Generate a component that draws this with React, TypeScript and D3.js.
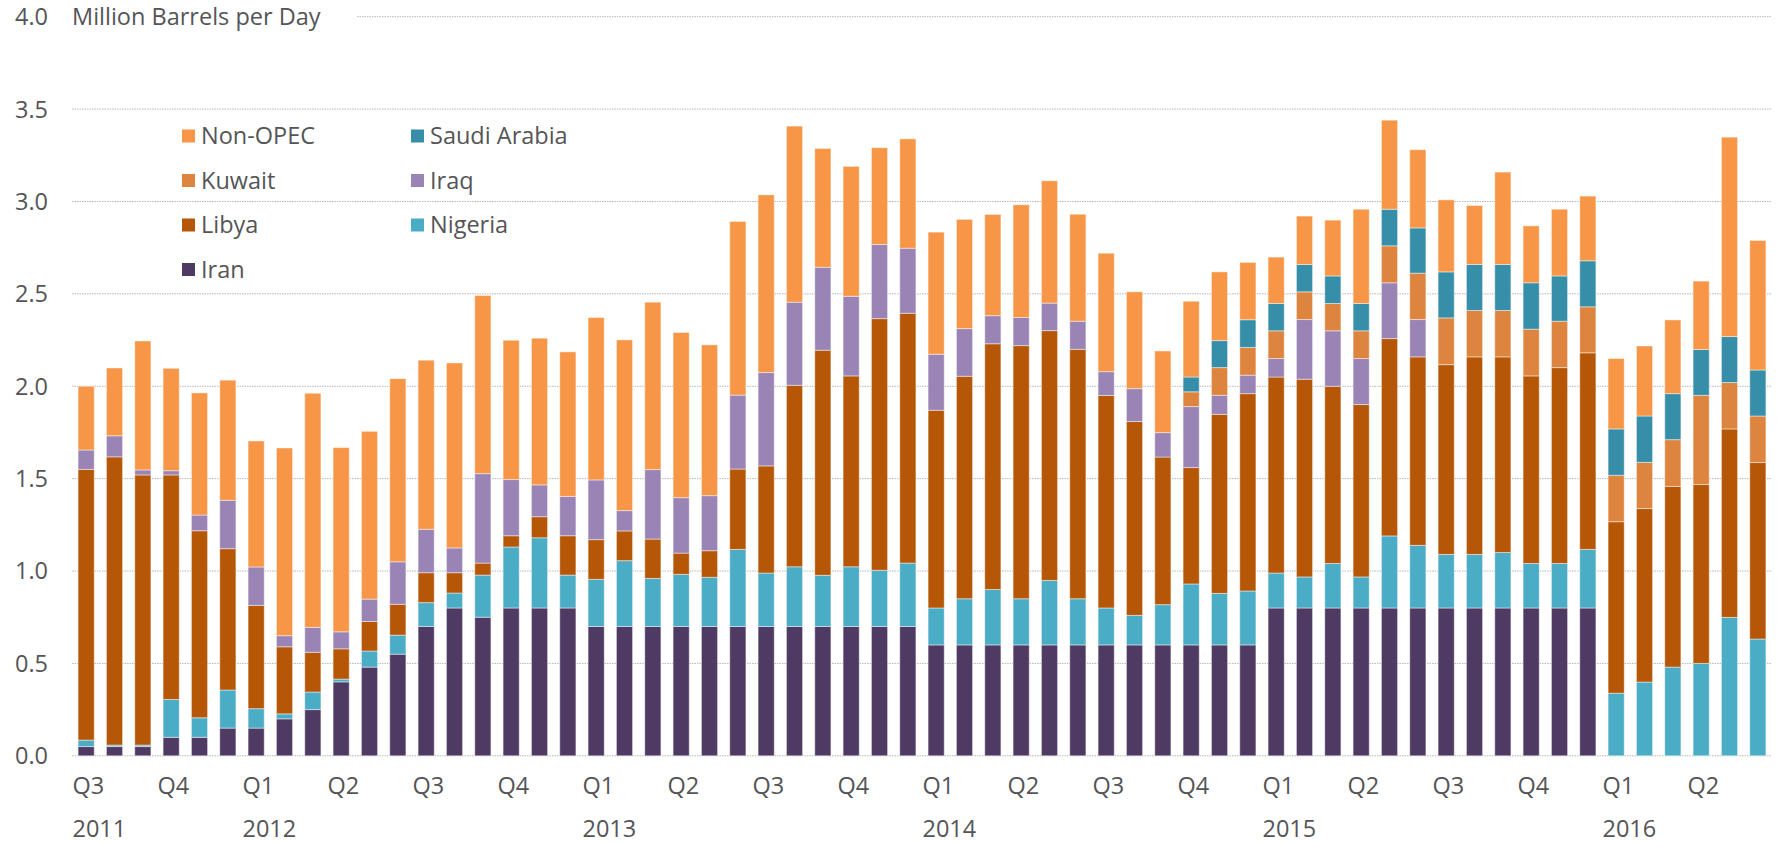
import React from 'react';
import * as d3 from 'd3';

const MONTHS = [
  'Jul 2011','Aug 2011','Sep 2011','Oct 2011','Nov 2011','Dec 2011',
  'Jan 2012','Feb 2012','Mar 2012','Apr 2012','May 2012','Jun 2012','Jul 2012','Aug 2012','Sep 2012','Oct 2012','Nov 2012','Dec 2012',
  'Jan 2013','Feb 2013','Mar 2013','Apr 2013','May 2013','Jun 2013','Jul 2013','Aug 2013','Sep 2013','Oct 2013','Nov 2013','Dec 2013',
  'Jan 2014','Feb 2014','Mar 2014','Apr 2014','May 2014','Jun 2014','Jul 2014','Aug 2014','Sep 2014','Oct 2014','Nov 2014','Dec 2014',
  'Jan 2015','Feb 2015','Mar 2015','Apr 2015','May 2015','Jun 2015','Jul 2015','Aug 2015','Sep 2015','Oct 2015','Nov 2015','Dec 2015',
  'Jan 2016','Feb 2016','Mar 2016','Apr 2016','May 2016','Jun 2016',
];

const IRAN = [
  0.05,0.05,0.05,0.10,0.10,0.15,
  0.15,0.20,0.25,0.40,0.48,0.55,0.70,0.80,0.75,0.80,0.80,0.80,
  0.70,0.70,0.70,0.70,0.70,0.70,0.70,0.70,0.70,0.70,0.70,0.70,
  0.60,0.60,0.60,0.60,0.60,0.60,0.60,0.60,0.60,0.60,0.60,0.60,
  0.80,0.80,0.80,0.80,0.80,0.80,0.80,0.80,0.80,0.80,0.80,0.80,
  0,0,0,0,0,0,
];
const NIGERIA = [
  0.035,0.008,0.008,0.205,0.106,0.206,
  0.105,0.027,0.095,0.015,0.087,0.103,0.129,0.081,0.228,0.33,0.38,0.178,
  0.255,0.356,0.26,0.282,0.266,0.417,0.289,0.323,0.277,0.323,0.304,0.343,
  0.20,0.25,0.30,0.25,0.349,0.25,0.20,0.16,0.218,0.33,0.279,0.292,
  0.189,0.168,0.241,0.168,0.39,0.339,0.29,0.29,0.30,0.241,0.241,0.317,
  0.339,0.399,0.48,0.50,0.749,0.632,
];
const LIBYA = [
  1.465,1.56,1.462,1.215,1.012,0.765,
  0.559,0.363,0.215,0.164,0.16,0.167,0.162,0.11,0.065,0.061,0.114,0.213,
  0.215,0.161,0.213,0.115,0.144,0.435,0.58,0.982,1.218,1.033,1.362,1.352,
  1.07,1.204,1.33,1.37,1.352,1.35,1.15,1.049,0.799,0.63,0.969,1.068,
  1.061,1.07,0.959,0.933,1.068,1.02,1.027,1.069,1.059,1.015,1.06,1.064,
  0.928,0.939,0.978,0.968,1.02,0.955,
];
const IRAQ = [
  0.105,0.114,0.027,0.023,0.085,0.262,
  0.208,0.06,0.135,0.092,0.121,0.23,0.235,0.134,0.484,0.304,0.172,0.213,
  0.323,0.11,0.376,0.30,0.298,0.40,0.505,0.45,0.449,0.431,0.401,0.352,
  0.303,0.258,0.152,0.152,0.149,0.152,0.129,0.178,0.132,0.33,0.103,0.10,
  0.10,0.323,0.30,0.249,0.302,0.202,0,0,0,0,0,0,
  0,0,0,0,0,0,
];
const KUWAIT = [
  0,0,0,0,0,0,
  0,0,0,0,0,0,0,0,0,0,0,0,
  0,0,0,0,0,0,0,0,0,0,0,0,
  0,0,0,0,0,0,0,0,0,0.08,0.15,0.15,
  0.15,0.15,0.148,0.15,0.20,0.251,0.253,0.251,0.251,0.253,0.251,0.249,
  0.251,0.25,0.253,0.483,0.251,0.252,
];
const SAUDI = [
  0,0,0,0,0,0,
  0,0,0,0,0,0,0,0,0,0,0,0,
  0,0,0,0,0,0,0,0,0,0,0,0,
  0,0,0,0,0,0,0,0,0,0.08,0.146,0.15,
  0.148,0.148,0.149,0.148,0.198,0.245,0.249,0.249,0.249,0.251,0.245,0.249,
  0.251,0.251,0.249,0.248,0.249,0.249,
];
const NON_OPEC = [
  0.345,0.367,0.698,0.554,0.661,0.65,
  0.682,1.016,1.267,0.997,0.908,0.991,0.915,1.001,0.964,0.754,0.794,0.782,
  0.879,0.924,0.906,0.894,0.816,0.94,0.962,0.953,0.643,0.703,0.524,0.592,
  0.661,0.591,0.548,0.61,0.662,0.579,0.641,0.524,0.442,0.41,0.372,0.31,
  0.251,0.262,0.302,0.51,0.482,0.423,0.39,0.319,0.50,0.308,0.361,0.35,
  0.381,0.379,0.399,0.37,1.079,0.701,
];

const SERIES_KEYS = ['Iran', 'Nigeria', 'Libya', 'Iraq', 'Kuwait', 'Saudi Arabia', 'Non-OPEC'];
const SERIES_VALUES = [IRAN, NIGERIA, LIBYA, IRAQ, KUWAIT, SAUDI, NON_OPEC];
const COLORS: Record<string, string> = {
  'Iran': '#4e3a62',
  'Nigeria': '#4bacc6',
  'Libya': '#b65708',
  'Iraq': '#9a84b5',
  'Kuwait': '#dd843e',
  'Saudi Arabia': '#378ea8',
  'Non-OPEC': '#f79646',
};
const LEGEND_ROWS = [
  ['Non-OPEC', 'Saudi Arabia'],
  ['Kuwait', 'Iraq'],
  ['Libya', 'Nigeria'],
  ['Iran'],
];

const Y_TICKS = [0, 0.5, 1.0, 1.5, 2.0, 2.5, 3.0, 3.5, 4.0];
const QUARTER_TICKS = [
  ['Jul 2011','Q3'],['Oct 2011','Q4'],['Jan 2012','Q1'],['Apr 2012','Q2'],['Jul 2012','Q3'],['Oct 2012','Q4'],
  ['Jan 2013','Q1'],['Apr 2013','Q2'],['Jul 2013','Q3'],['Oct 2013','Q4'],['Jan 2014','Q1'],['Apr 2014','Q2'],
  ['Jul 2014','Q3'],['Oct 2014','Q4'],['Jan 2015','Q1'],['Apr 2015','Q2'],['Jul 2015','Q3'],['Oct 2015','Q4'],
  ['Jan 2016','Q1'],['Apr 2016','Q2'],
];
const YEAR_TICKS = [
  ['Jul 2011','2011'],['Jan 2012','2012'],['Jan 2013','2013'],['Jan 2014','2014'],['Jan 2015','2015'],['Jan 2016','2016'],
];
const Y_TITLE = 'Million Barrels per Day';

const W = 1779;
const H = 844;
const FONT = "'Open Sans', 'DejaVu Sans', sans-serif";
const TEXT = '#555557';
const FS = 23.5;

export default function App() {
  const rows = MONTHS.map((m, i) => {
    const r: Record<string, any> = { month: m };
    SERIES_KEYS.forEach((k, j) => (r[k] = SERIES_VALUES[j][i]));
    return r;
  });
  const stacked = d3.stack<any>().keys(SERIES_KEYS)(rows);

  const x = d3.scaleBand<string>().domain(MONTHS).range([72, 1772]).paddingInner(0.43).paddingOuter(0.215);
  const y = d3.scaleLinear().domain([0, 4]).range([755.8, 16.7]);
  const step = x.step();
  const bandStart = (m: string) => (x(m) as number) - step * 0.215;

  return (
    <svg width={W} height={H} style={{ position: 'absolute', left: 0, top: 0, background: '#fff' }} fontFamily={FONT} fontWeight={500}>
      {Y_TICKS.map((t) => (
        <g key={t}>
          <line
            x1={t === 4 ? 357 : 72}
            x2={1772}
            y1={y(t)}
            y2={y(t)}
            stroke="#b8b8b8"
            strokeWidth={1}
            strokeDasharray="1.5,1"
          />
          <text x={48} y={y(t)} dy="0.36em" textAnchor="end" fontSize={FS} fill={TEXT}>
            {t.toFixed(1)}
          </text>
        </g>
      ))}
      <text x={72} y={y(4)} dy="0.36em" fontSize={FS} fill={TEXT}>{Y_TITLE}</text>

      {stacked.map((s) => (
        <g key={s.key} fill={COLORS[s.key]}>
          {s.map((d, i) => {
            const h = y(d[0]) - y(d[1]);
            if (h <= 0.01) return null;
            return (
              <rect
                key={i}
                x={x(MONTHS[i])}
                y={y(d[1])}
                width={x.bandwidth()}
                height={h}
                stroke="rgba(255,255,255,0.45)"
                strokeWidth={1}
              />
            );
          })}
        </g>
      ))}

      {QUARTER_TICKS.map(([m, lbl]) => (
        <text key={m} x={bandStart(m) + 0.5} y={786} dy="0.36em" fontSize={FS} fill={TEXT}>{lbl}</text>
      ))}
      {YEAR_TICKS.map(([m, lbl]) => (
        <text key={m} x={bandStart(m) + 0.5} y={829} dy="0.36em" fontSize={FS} fill={TEXT}>{lbl}</text>
      ))}

      {LEGEND_ROWS.map((row, ri) =>
        row.map((k, ci) => {
          const lx = ci === 0 ? 182 : 411;
          const ly = 136 + ri * 44.5;
          return (
            <g key={k}>
              <rect x={lx} y={ly - 6.5} width={13} height={13} fill={COLORS[k]} />
              <text x={lx + 19} y={ly} dy="0.36em" fontSize={FS} fill={TEXT}>{k}</text>
            </g>
          );
        })
      )}
    </svg>
  );
}
